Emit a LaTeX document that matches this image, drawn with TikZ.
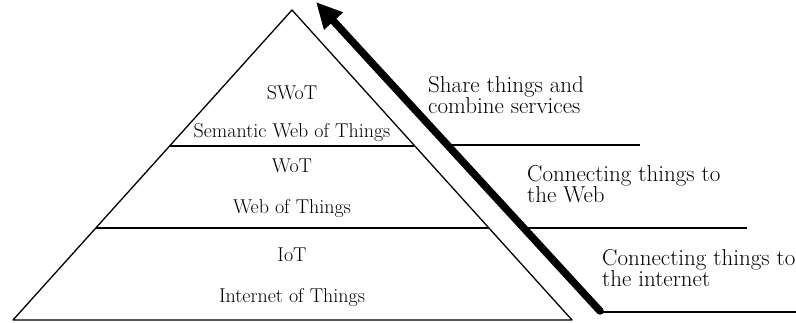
\documentclass[tikz,border=0pt]{standalone}
\usepackage{fontspec}
\usetikzlibrary{arrows.meta}
\begin{document}
\begin{tikzpicture}[x=1pt,y=-1pt,
  lbl/.style={inner sep=0pt,anchor=base,font=\fontsize{20}{22}\selectfont},
  side/.style={inner sep=0pt,align=left,anchor=base west,font=\fontsize{23}{21}\selectfont},
  edge line/.style={line width=1.3pt},
  layer line/.style={line width=1.6pt},
  bigarrow/.style={line width=7.5pt,line cap=round,-{Triangle[length=26pt,width=24pt]}}]
\useasboundingbox (0,0) rectangle (796,322);
\clip (0,0) rectangle (796,322);
% pyramid corners
\coordinate (apex) at (292,10);
\coordinate (bl) at (13,320);
\coordinate (br) at (572,320);
\draw[edge line,line join=round] (apex) -- (bl) -- (br) -- cycle;
% layer boundaries inside pyramid
\coordinate (t1l) at (170,146);
\coordinate (t1r) at (414,146);
\coordinate (t2l) at (96,228);
\coordinate (t2r) at (489,228);
\draw[layer line] (t1l) -- (t1r);
\draw[layer line] (t2l) -- (t2r);
% arrow
\coordinate (as) at (600,311);
\coordinate (ae) at (316,2);
\draw[bigarrow] (as) -- (ae);
% right-hand lines
\coordinate (r1s) at (449,145);
\coordinate (r1e) at (640,145);
\coordinate (r2s) at (524,228);
\coordinate (r2e) at (747,228);
\coordinate (r3s) at (600,312);
\coordinate (r3e) at (800,312);
\draw[layer line] (r1s) -- (r1e);
\draw[layer line] (r2s) -- (r2e);
\draw[layer line] (r3s) -- (r3e);
% labels
\node[lbl] (swot) at (292,99) {SWoT};
\node[lbl] (swotl) at (292,137) {Semantic Web of Things};
\node[lbl] (wot) at (292,172) {WoT};
\node[lbl] (wotl) at (292,213) {Web of Things};
\node[lbl] (iot) at (292,261) {IoT};
\node[lbl] (iotl) at (292,302) {Internet of Things};
\node[side] (s1) at (428,113) {Share things and\\combine services};
\node[side] (s2) at (527,202) {Connecting things to\\the Web};
\node[side] (s3) at (602,286) {Connecting things to\\the internet};
\end{tikzpicture}
\end{document}
